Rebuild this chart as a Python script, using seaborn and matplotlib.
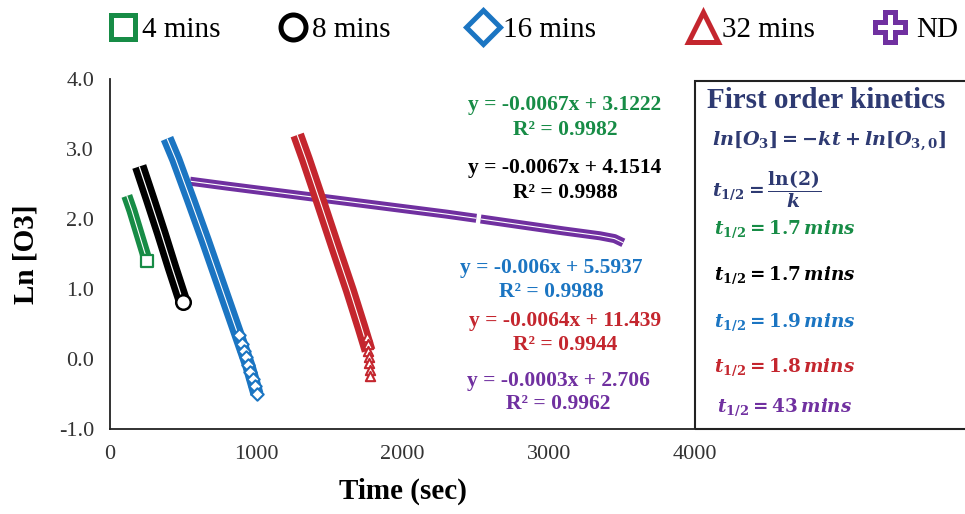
import matplotlib
matplotlib.use("Agg")
import matplotlib.pyplot as plt
import seaborn as sns
import pandas as pd
from matplotlib.lines import Line2D
from matplotlib.patches import Rectangle

# ---------------- data ----------------
t_4 = [115, 150, 185, 220, 255]
v_4 = [2.33, 2.12, 1.88, 1.64, 1.40]

t_8 = [200, 275, 350, 425, 500]
v_8 = [2.75, 2.28, 1.80, 1.30, 0.82]

t_16 = [390, 450, 550, 650, 750, 850, 950, 1005]
v_16 = [3.15, 2.85, 2.28, 1.70, 1.10, 0.50, -0.10, -0.50]
t_16_tail = [880, 900, 915, 930, 945, 960, 975, 990, 1005]
v_16_tail = [0.35, 0.22, 0.12, 0.03, -0.08, -0.18, -0.28, -0.38, -0.50]

t_32 = [1280, 1340, 1440, 1540, 1640, 1720, 1768]
v_32 = [3.20, 2.85, 2.23, 1.60, 0.98, 0.45, 0.12]
t_32_tail = [1755, 1762, 1767, 1771, 1774, 1777, 1779]
v_32_tail = [0.32, 0.22, 0.12, 0.03, -0.06, -0.15, -0.24]

t_nd_a = [548, 800, 1100, 1400, 1700, 2000, 2300, 2505]
v_nd_a = [2.54, 2.47, 2.39, 2.31, 2.23, 2.15, 2.07, 2.01]
t_nd_b = [2535, 2800, 3100, 3350, 3450, 3510]
v_nd_b = [2.00, 1.92, 1.83, 1.76, 1.72, 1.66]

series_labels = ["4 mins", "8 mins", "16 mins", "32 mins", "ND"]
fit_eqs = ["y = -0.0067x + 3.1222", "y = -0.0067x + 4.1514", "y = -0.006x + 5.5937",
           "y = -0.0064x + 11.439", "y = -0.0003x + 2.706"]
r2_labels = ["R² = 0.9982", "R² = 0.9988", "R² = 0.9988", "R² = 0.9944", "R² = 0.9962"]
half_lives = ["1.7", "1.7", "1.9", "1.8", "43"]
x_ticks = [0, 1000, 2000, 3000, 4000]
y_ticks = [-1.0, 0.0, 1.0, 2.0, 3.0, 4.0]

# ---------------- style ----------------
GREEN = "#178C46"
BLACK = "#000000"
BLUE = "#1B75C2"
RED = "#C4262E"
PURPLE = "#7030A0"
NAVY = "#2E3A72"
colors = [GREEN, BLACK, BLUE, RED, PURPLE]

sns.set_style("white")
plt.rcParams["font.family"] = ["Liberation Serif", "DejaVu Serif"]
plt.rcParams["text.color"] = "black"
plt.rcParams["axes.labelcolor"] = "black"
plt.rcParams["axes.unicode_minus"] = False
plt.rcParams["mathtext.fontset"] = "custom"
plt.rcParams["mathtext.rm"] = "DejaVu Serif:bold"
plt.rcParams["mathtext.bf"] = "DejaVu Serif:bold"
plt.rcParams["mathtext.it"] = "DejaVu Serif:italic:bold"

W, H = 965, 514
fig = plt.figure(figsize=(W / 100, H / 100), dpi=100)
ax = fig.add_axes([110 / W, 1 - 429 / H, 585 / W, 350 / H])


def band(t, v, color, lw, wlw=0.8):
    df = pd.DataFrame({"t": t, "v": v})
    sns.lineplot(data=df, x="t", y="v", color=color, linewidth=lw, sort=False,
                 estimator=None, ax=ax, solid_capstyle="butt")
    sns.lineplot(data=df, x="t", y="v", color="white", linewidth=wlw, sort=False,
                 estimator=None, ax=ax, solid_capstyle="butt")


def tail(t, v, color, marker, s, lw=1.5):
    df = pd.DataFrame({"t": t, "v": v})
    sns.scatterplot(data=df, x="t", y="v", marker=marker, s=s, facecolor="white",
                    edgecolor=color, linewidth=lw, ax=ax, zorder=3)


# ND first (underneath)
band(t_nd_a, v_nd_a, PURPLE, 6.5, 0.8)
band(t_nd_b, v_nd_b, PURPLE, 6.5, 0.8)
# 4 mins
band(t_4, v_4, GREEN, 8.0)
tail([t_4[-1]], [v_4[-1]], GREEN, "s", 75, 1.6)
# 8 mins
band(t_8, v_8, BLACK, 10.5, 0.9)
tail([t_8[-1]], [v_8[-1]], BLACK, "o", 110, 1.8)
# 16 mins
band(t_16, v_16, BLUE, 9.5)
tail(t_16_tail, v_16_tail, BLUE, "D", 40, 1.5)
# 32 mins
band(t_32, v_32, RED, 10.0)
tail(t_32_tail, v_32_tail, RED, "^", 45, 1.5)

# axes styling
ax.set_xlim(0, 4000)
ax.set_ylim(-1.0, 4.0)
ax.set_xticks(x_ticks)
ax.set_yticks(y_ticks)
ax.set_xticklabels([str(x) for x in x_ticks], fontsize=16, color="#333333")
ax.set_yticklabels([f"{y:.1f}" for y in y_ticks], fontsize=16, color="#333333")
ax.tick_params(axis="both", direction="inout", length=11, width=1.2, color="#222222")
ax.tick_params(axis="x", pad=6)
ax.tick_params(axis="y", pad=6)
for s in ["top", "right"]:
    ax.spines[s].set_visible(False)
for s in ["left", "bottom"]:
    ax.spines[s].set_color("#222222")
    ax.spines[s].set_linewidth(1.3)
ax.set_xlabel("Time (sec)", fontsize=21, fontweight="bold", labelpad=10)
ax.set_ylabel("Ln [O3]", fontsize=21, fontweight="bold", labelpad=14)

# right-side box
fig.add_artist(Rectangle((695 / W, 1 - 429 / H), 0.5, (429 - 81) / H,
                         transform=fig.transFigure, fill=False,
                         edgecolor="#222222", linewidth=1.5))

# fit equations
eq_pos = [(565, 105, 130), (565, 168, 193), (551, 268, 292), (565, 321, 345), (558, 381, 404)]
for (x, y1, y2), eq, r2, c in zip(eq_pos, fit_eqs, r2_labels, colors):
    fig.text(x / W, 1 - y1 / H, eq, ha="center", va="center", fontsize=15.5,
             fontweight="bold", color=c)
    fig.text(x / W, 1 - y2 / H, r2, ha="center", va="center", fontsize=15.5,
             fontweight="bold", color=c)

# kinetics panel
fig.text(707 / W, 1 - 101 / H, "First order kinetics", ha="left", va="center",
         fontsize=21, fontweight="bold", color=NAVY)
fig.text(712 / W, 1 - 141 / H, r"$ln[O_3] = -kt + ln[O_{3,0}]$", ha="left",
         va="center", fontsize=13.8, color=NAVY)
fig.text(712 / W, 1 - 189 / H, r"$t_{1/2} = \dfrac{\mathrm{ln(2)}}{k}$", ha="left",
         va="center", fontsize=13.5, color=NAVY)
hl_y = [229, 275, 322, 367, 407]
hl_x = [714, 714, 714, 714, 717]
for x, y, hl, c in zip(hl_x, hl_y, half_lives, colors):
    fig.text(x / W, 1 - y / H, r"$t_{1/2} = %s\,mins$" % hl, ha="left", va="center",
             fontsize=13.2, color=c)

# legend row
leg_markers = ["s", "o", "D", "^", "P"]
leg_sizes = [17, 18, 17, 22, 22]
leg_x = [108, 278, 468, 688, 875]
leg_pad = [0.15, 0.15, 0.2, 0.15, 0.4]
for m, ms, x, lab, c, pad in zip(leg_markers, leg_sizes, leg_x, series_labels, colors, leg_pad):
    h = Line2D([], [], linestyle="none", marker=m, markersize=ms, markerfacecolor="white",
               markeredgecolor=c, markeredgewidth=3.6)
    fig.legend(handles=[h], labels=[lab], loc="center left",
               bbox_to_anchor=(x / W, 1 - 30 / H), frameon=False, fontsize=21,
               handlelength=1.0, handletextpad=pad, borderpad=0, borderaxespad=0)

fig.savefig("out.png", dpi=100)
